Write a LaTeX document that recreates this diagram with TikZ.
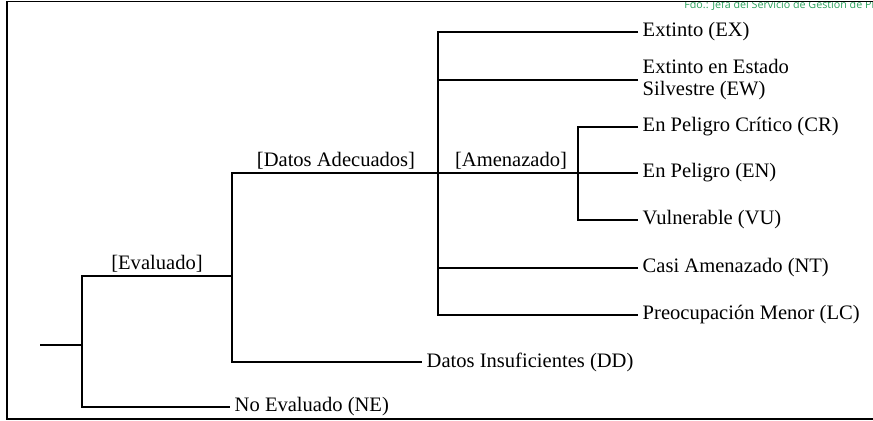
\documentclass[tikz,border=0pt]{standalone}
\usepackage{fontspec}
\setmainfont{Liberation Serif}
\newfontfamily\signfont{Open Sans}
\usetikzlibrary{positioning}
\definecolor{branchLineColor}{RGB}{0,0,0}
\definecolor{signColor}{RGB}{40,160,90}
\tikzset{
	category/.style = {
		anchor = west, inner sep = 2.5pt, align = left,
		font = \fontsize{11.7}{12.5}\selectfont
	},
	branchLabel/.style = {
		anchor = base, inner sep = 0pt,
		font = \fontsize{11.7}{12.5}\selectfont
	},
	branchLineStyle/.style = {
		line width = 1.1pt, draw = branchLineColor
	}
}

\begin{document}
\begin{tikzpicture}[x=0.02cm, y=-0.02cm]
	\useasboundingbox (0,0) rectangle (873,421);
	\node [anchor=base west, inner sep=0pt, text=signColor, font=\signfont\fontsize{6.1}{7}\selectfont] (sign) at (684,8.5) {Fdo.: Jefa del Servicio de Gestión de Planificación};
	\fill [white] (0,0) rectangle (873,1.5);
	\draw [line width=0.9pt] (873,1.5) -- (7,1.5) -- (7,419) -- (873,419);

	\coordinate (root) at (40,345);
	\coordinate (J0) at (82,345);
	\coordinate (J1) at (232,276);
	\coordinate (J2) at (438,173);
	\coordinate (J3) at (578,173);

	\node [category] (EX) at (638,32) {Extinto (EX)};
	\node [category] (EW) at (638,80) {Extinto en Estado\\Silvestre (EW)};
	\node [category] (CR) at (638,127) {En Peligro Crítico (CR)};
	\node [category] (EN) at (638,173) {En Peligro (EN)};
	\node [category] (VU) at (638,220) {Vulnerable (VU)};
	\node [category] (NT) at (638,268) {Casi Amenazado (NT)};
	\node [category] (LC) at (638,315) {Preocupación Menor (LC)};
	\node [category] (DD) at (422,362) {Datos Insuficientes (DD)};
	\node [category] (NE) at (230,407) {No Evaluado (NE)};

	\node [branchLabel] (evaluado) at (157,270) {[Evaluado]};
	\node [branchLabel] (adecuados) at (336,167) {[Datos Adecuados]};
	\node [branchLabel] (amenazado) at (511,167) {[Amenazado]};

	\draw [branchLineStyle] (root) -- (J0);
	\draw [branchLineStyle] (J1) -| (J0) |- (NE.west);
	\draw [branchLineStyle] (J2) -| (J1) |- (DD.west);
	\draw [branchLineStyle] (EX.west) -| (J2) |- (LC.west);
	\draw [branchLineStyle] (EW.west) -- (EW.west -| J2);
	\draw [branchLineStyle] (NT.west) -- (NT.west -| J2);
	\draw [branchLineStyle] (J2) -- (J3);
	\draw [branchLineStyle] (CR.west) -| (J3) |- (VU.west);
	\draw [branchLineStyle] (J3) -- (EN.west);
\end{tikzpicture}
\end{document}
